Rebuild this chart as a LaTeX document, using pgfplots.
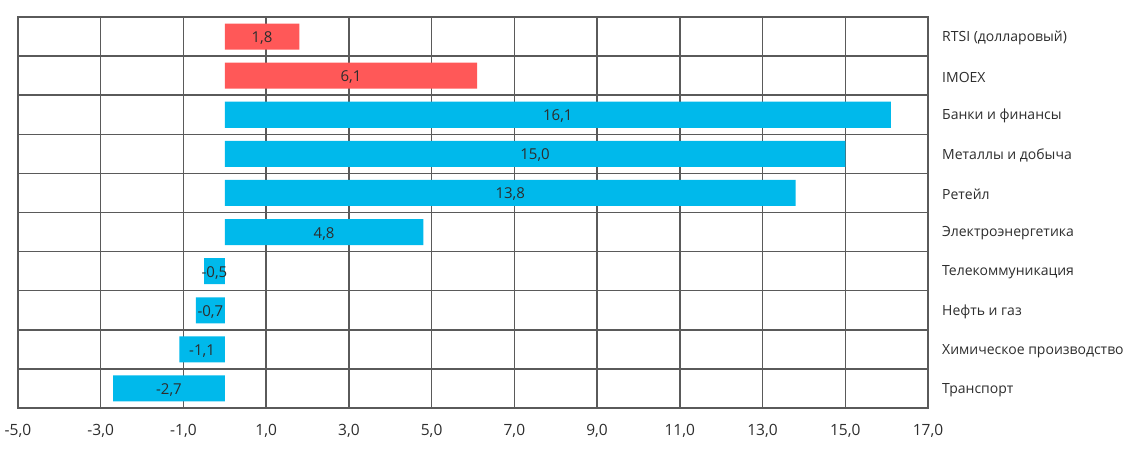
\documentclass[border=0pt]{standalone}
\usepackage{pgfplots}
\pgfplotsset{compat=1.18}
\usepackage{pgfplotstable}
\usepackage{fontspec}
\setmainfont{Open Sans}
\definecolor{barred}{RGB}{255,88,88}
\definecolor{barblue}{RGB}{0,185,235}
\definecolor{gridc}{RGB}{90,90,90}
\definecolor{txt}{RGB}{45,45,45}
\pgfplotstableread{
y v
0 1.8
1 6.1
}\redtab
\pgfplotstableread{
y v
2 16.1
3 15.0
4 13.8
5 4.8
6 -0.5
7 -0.7
8 -1.1
9 -2.7
}\bluetab
\begin{document}
\begin{tikzpicture}
\begin{axis}[
  scale only axis,
  width=910pt, height=391pt,
  xmin=-5, xmax=17,
  ymin=-0.5, ymax=9.5,
  y dir=reverse,
  xtick={-5,-3,...,17},
  xmajorgrids,
  ytick={0,...,9},
  yticklabels={RTSI (долларовый),IMOEX,Банки и финансы,Металлы и добыча,Ретейл,Электроэнергетика,Телекоммуникация,Нефть и газ,Химическое производство,Транспорт},
  yticklabel pos=right,
  minor ytick={0.5,1.5,...,8.5},
  yminorgrids,
  major tick length=0pt, minor tick length=0pt,
  axis line style={gridc, line width=1.4pt},
  grid style={gridc, line width=1.4pt},
  minor grid style={gridc, line width=1.4pt},
  tick style={draw=none},
  every tick label/.append style={text=txt},
  yticklabel style={anchor=west, inner sep=0pt, xshift=14pt, yshift=-1.5pt, font=\fontsize{14}{16}\selectfont},
  xticklabel style={anchor=north, inner sep=0pt, yshift=-16pt, font=\fontsize{15.5}{17}\selectfont},
  /pgf/number format/.cd, fixed, fixed zerofill, precision=1, use comma, assume math mode=true,
  /pgfplots/.cd,
  clip=false,
]
\addplot[xbar, bar width=0.665, bar shift=0pt, fill=barred, draw=none] table[x=v, y=y] {\redtab};
\addplot[xbar, bar width=0.665, bar shift=0pt, fill=barblue, draw=none] table[x=v, y=y] {\bluetab};
\addplot[only marks, mark=*, mark size=0pt, point meta=explicit,
  nodes near coords,
  every node near coord/.append style={anchor=center, font=\fontsize{15}{17}\selectfont, text=txt, inner sep=0pt, yshift=-1.5pt},
  ] table[x expr=\thisrow{v}/2, y=y, meta=v] {\redtab};
\addplot[only marks, mark=*, mark size=0pt, point meta=explicit,
  nodes near coords,
  every node near coord/.append style={anchor=center, font=\fontsize{15}{17}\selectfont, text=txt, inner sep=0pt, yshift=-1.5pt},
  ] table[x expr=\thisrow{v}/2, y=y, meta=v] {\bluetab};
\end{axis}
\path (current axis.south west) ++(-18pt,-40pt) coordinate (bbA);
\path (current axis.north east) ++(202pt,17pt) coordinate (bbB);
\path (bbA) (bbB);
\end{tikzpicture}
\end{document}
